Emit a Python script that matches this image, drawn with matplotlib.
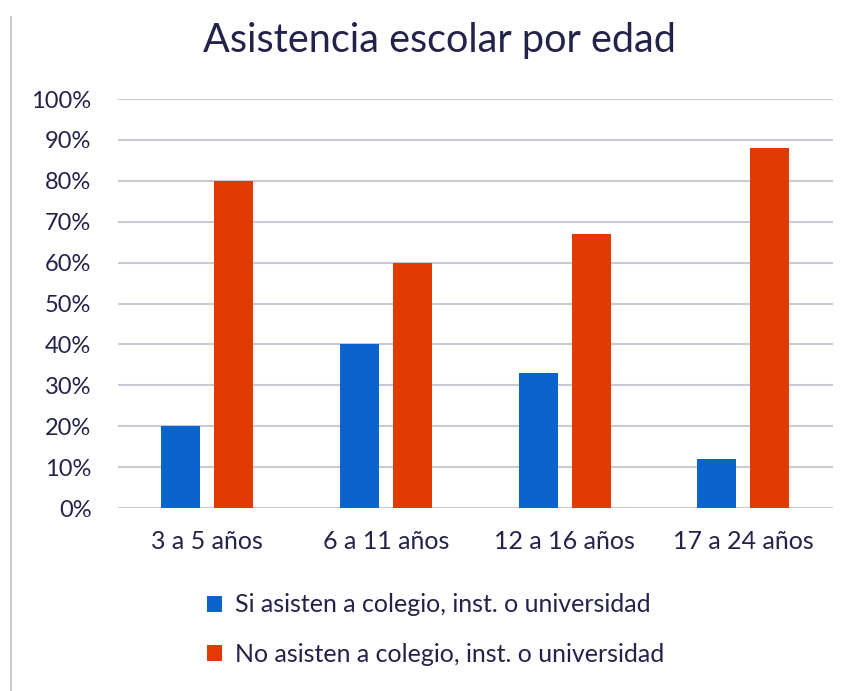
import matplotlib.pyplot as plt
import numpy as np
from matplotlib.lines import Line2D

categorias = ['3 a 5 años', '6 a 11 años', '12 a 16 años', '17 a 24 años']
si_asisten = [0.20, 0.40, 0.33, 0.12]
no_asisten = [0.80, 0.60, 0.67, 0.88]
etiquetas = ['Si asisten a colegio, inst. o universidad',
             'No asisten a colegio, inst. o universidad']

azul = '#0A64CC'
rojo = '#E03A00'
texto = '#23234A'
grilla = '#C9C9D6'

plt.rcParams['font.family'] = ['Lato', 'DejaVu Sans']

fig = plt.figure(figsize=(8.54, 6.91), dpi=100)
ax = fig.add_axes([0.138, 0.2648, 0.837, 0.5919])

x = np.arange(len(categorias))
w = 0.218
off = 0.148
ax.bar(x - off, si_asisten, w, color=azul, label=etiquetas[0], zorder=3)
ax.bar(x + off, no_asisten, w, color=rojo, label=etiquetas[1], zorder=3)

ax.set_xlim(-0.5, len(categorias) - 0.5)
ax.set_ylim(0, 1)
ax.set_yticks(np.arange(0, 1.01, 0.1))
ax.set_yticklabels([f'{int(round(v * 100))}%' for v in np.arange(0, 1.01, 0.1)])
ax.set_xticks(x)
ax.set_xticklabels(categorias)
ax.tick_params(axis='y', length=0, pad=19, labelsize=17, labelcolor=texto)
ax.tick_params(axis='x', length=0, pad=16, labelsize=18, labelcolor=texto)
ax.grid(axis='y', color=grilla, linewidth=1.5, zorder=0)
ax.set_axisbelow(True)
for s in ax.spines.values():
    s.set_visible(False)

fig.text(0.515, 0.942, 'Asistencia escolar por edad', ha='center', va='center',
         fontsize=28.5, color=texto)

leg = fig.legend(loc='center', bbox_to_anchor=(0.51, 0.089), ncol=1, frameon=False,
                 fontsize=18, labelspacing=1.05, handlelength=0.6, handleheight=0.6,
                 handletextpad=0.5, labelcolor=texto)

# borde izquierdo de la imagen
fig.add_artist(Line2D([0.013, 0.013], [0.0, 0.975], transform=fig.transFigure,
                      color='#C8C8D0', linewidth=1.5))

fig.savefig('out.png', dpi=100)
